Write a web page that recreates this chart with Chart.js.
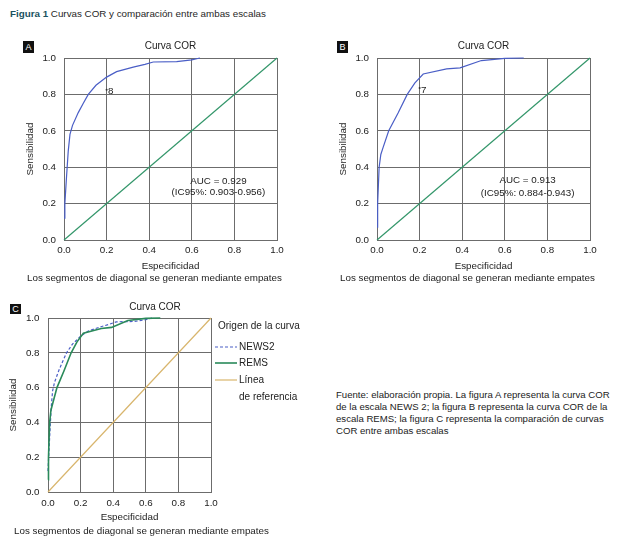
<!DOCTYPE html>
<html><head><meta charset="utf-8">
<script src="https://cdn.jsdelivr.net/npm/chart.js@4.4.1/dist/chart.umd.min.js"></script>
<style>
html,body{margin:0;padding:0;background:#fff;}
body{width:625px;height:541px;position:relative;overflow:hidden;font-family:"Liberation Sans",Arial,sans-serif;font-size:9.8px;color:#222;}
.abs{position:absolute;white-space:nowrap;line-height:12px;}
canvas{position:absolute;}
.tag{position:absolute;background:#111;color:#fff;font-size:9px;text-align:center;}
</style></head><body>
<div class="abs" style="left:10px;top:8px;"><b style="color:#1a5260">Figura 1</b> <span style="color:#1f1f1f">Curvas COR y comparación entre ambas escalas</span></div>
<canvas id="cA" width="280" height="250" style="left:20px;top:30px;width:280px;height:250px"></canvas>
<canvas id="cB" width="280" height="250" style="left:333px;top:30px;width:280px;height:250px"></canvas>
<canvas id="cC" width="310" height="245" style="left:0px;top:295px;width:310px;height:245px"></canvas>
<div class="tag" style="left:23px;top:41px;width:11px;height:12px;line-height:12px;">A</div>
<div class="tag" style="left:337px;top:41px;width:11px;height:12px;line-height:12px;">B</div>
<div class="tag" style="left:10px;top:304px;width:11px;height:10px;line-height:10px;">C</div>
<div class="abs" style="left:27px;top:272px;">Los segmentos de diagonal se generan mediante empates</div>
<div class="abs" style="left:340px;top:272px;">Los segmentos de diagonal se generan mediante empates</div>
<div class="abs" style="left:14px;top:525px;">Los segmentos de diagonal se generan mediante empates</div>
<div class="abs" style="left:336px;top:389px;font-size:9.6px;">Fuente: elaboración propia. La figura A representa la curva COR<br>de la escala NEWS 2; la figura B representa la curva COR de la<br>escala REMS; la figura C representa la comparación de curvas<br>COR entre ambas escalas</div>
<script>
// ---- data ----
const axisTicks = [0, 0.2, 0.4, 0.6, 0.8, 1.0];
const news2Spec = [0, 0.004, 0.012, 0.02, 0.028, 0.04, 0.067, 0.09, 0.114, 0.15, 0.2, 0.247, 0.325, 0.38, 0.419, 0.529, 0.6, 0.638];
const news2Sens = [0.12, 0.2, 0.35, 0.49, 0.58, 0.63, 0.7, 0.75, 0.8, 0.85, 0.895, 0.925, 0.95, 0.965, 0.978, 0.98, 0.99, 1.0];
const remsSpec = [0, 0.003, 0.01, 0.018, 0.028, 0.055, 0.099, 0.142, 0.178, 0.217, 0.327, 0.39, 0.49, 0.6, 0.689];
const remsSens = [0.07, 0.2, 0.4, 0.47, 0.506, 0.6, 0.698, 0.8, 0.863, 0.912, 0.94, 0.946, 0.986, 0.998, 1.0];
const refSpec = [0, 1];
const refSens = [0, 1];
const news2CutSpec = [0.2];
const news2CutSens = [0.826];
const news2CutLabel = ['8'];
const remsCutSpec = [0.2];
const remsCutSens = [0.835];
const remsCutLabel = ['7'];
const news2Auc = ['AUC = 0.929', '(IC95%: 0.903-0.956)'];
const remsAuc = ['AUC = 0.913', '(IC95%: 0.884-0.943)'];

const TXT = '#222', GRID = '#6c6c6c';
const BLUE = '#4a5ec6', GREEN = '#33966a', GREEN2 = '#2a8a5a', TAN = '#d8b56c';
const FONT = '"Liberation Sans", Arial, sans-serif';
const FS = 9.8;
Chart.defaults.font.family = FONT;
Chart.defaults.font.size = FS;
Chart.defaults.color = TXT;

const pts = (xs, ys) => xs.map((v, i) => ({x: v, y: ys[i]}));

const annotPlugin = {
  id: 'annot',
  afterDraw(chart, args, o) {
    const {ctx, chartArea: ca, scales: {x, y}} = chart;
    ctx.save();
    ctx.fillStyle = TXT;
    ctx.font = `${o.titleSize || 10}px ${FONT}`;
    ctx.textAlign = 'center'; ctx.textBaseline = 'middle';
    if (o.title) ctx.fillText(o.title, o.titleX != null ? o.titleX : (ca.left + ca.right) / 2, o.titleY);
    ctx.font = `${FS}px ${FONT}`;
    if (o.auc) {
      o.auc.forEach((t, i) => ctx.fillText(t, x.getPixelForValue(o.aucX), y.getPixelForValue(o.aucY[i])));
    }
    if (o.cuts) {
      ctx.textAlign = 'left';
      o.cuts.labels.forEach((t, i) => ctx.fillText(t, x.getPixelForValue(o.cuts.xs[i]) + 1.5, y.getPixelForValue(o.cuts.ys[i]) + 2));
    }
    if (o.legend) {
      const L = o.legend, lx = ca.right, ty = ca.top;
      ctx.textAlign = 'left';
      ctx.font = `10px ${FONT}`;
      ctx.fillText(L.title, lx + 7, ty + 8);
      L.items.forEach(it => {
        ctx.save();
        ctx.strokeStyle = it.color; ctx.lineWidth = it.width; ctx.setLineDash(it.dash || []);
        ctx.beginPath(); ctx.moveTo(lx + 4, ty + it.dy); ctx.lineTo(lx + 26, ty + it.dy); ctx.stroke();
        ctx.restore();
        it.text.forEach((t, k) => ctx.fillText(t, lx + 28, ty + it.dy + k * 17));
      });
    }
    ctx.restore();
  }
};

function makeChart(id, g, datasets, annot) {
  return new Chart(document.getElementById(id), {
    type: 'scatter',
    data: {datasets},
    options: {
      responsive: false, animation: false,
      layout: {padding: {left: 0, top: g.top, right: g.right, bottom: g.bottom}},
      plugins: {legend: {display: false}, tooltip: {enabled: false}, title: {display: false}, annot},
      elements: {line: {tension: 0}},
      scales: {
        x: {
          type: 'linear', min: 0, max: 1,
          afterBuildTicks: s => { s.ticks = axisTicks.map(v => ({value: v})); },
          afterFit: s => { s.height = g.xh; },
          ticks: {padding: g.xtp, callback: v => Number(v).toFixed(1), color: TXT, maxRotation: 0, autoSkip: false},
          grid: {color: GRID, lineWidth: 1, drawTicks: false},
          border: {color: GRID, width: 1},
          title: {display: true, text: 'Especificidad', color: TXT, padding: {top: 0, bottom: g.xtt}}
        },
        y: {
          type: 'linear', min: 0, max: 1,
          afterBuildTicks: s => { s.ticks = axisTicks.map(v => ({value: v})); },
          afterFit: s => { s.width = g.yw; },
          ticks: {padding: g.ytp, callback: v => Number(v).toFixed(1), color: TXT, autoSkip: false},
          grid: {color: GRID, lineWidth: 1, drawTicks: false},
          border: {color: GRID, width: 1},
          title: {display: true, text: 'Sensibilidad', color: TXT, padding: {top: g.ytt, bottom: 0}}
        }
      }
    },
    plugins: [annotPlugin]
  });
}

const line = (label, xs, ys, color, width, dash) => ({
  label, data: pts(xs, ys), showLine: true, borderColor: color, backgroundColor: color,
  borderWidth: width, borderDash: dash || [], pointRadius: 0, clip: 4, fill: false
});
const dots = (label, xs, ys) => ({label, data: pts(xs, ys), showLine: false, pointRadius: 1, borderWidth: 0, backgroundColor: '#333', clip: 4});

const gAB = {top: 28, right: 23, bottom: 4, xh: 36, yw: 44, xtp: 4.2, xtt: 4.2, ytp: 8, ytt: 4.0};

makeChart('cA', gAB, [
  line('NEWS2', news2Spec, news2Sens, BLUE, 1.2),
  line('Línea de referencia', refSpec, refSens, GREEN, 1.2),
  dots('Punto de corte', news2CutSpec, news2CutSens)
], {title: 'Curva COR', titleY: 16, auc: news2Auc, aucX: 0.725, aucY: [0.325, 0.262],
    cuts: {xs: news2CutSpec, ys: news2CutSens, labels: news2CutLabel}});

makeChart('cB', gAB, [
  line('REMS', remsSpec, remsSens, BLUE, 1.2),
  line('Línea de referencia', refSpec, refSens, GREEN, 1.2),
  dots('Punto de corte', remsCutSpec, remsCutSens)
], {title: 'Curva COR', titleY: 16, auc: remsAuc, aucX: 0.707, aucY: [0.327, 0.259],
    cuts: {xs: remsCutSpec, ys: remsCutSens, labels: remsCutLabel}});

makeChart('cC', {top: 23, right: 99, bottom: 16, xh: 32, yw: 48, xtp: 5.4, xtt: 0.9, ytp: 8.5, ytt: 7.9}, [
  line('Línea de referencia', refSpec, refSens, TAN, 1.2),
  line('REMS', remsSpec, remsSens, GREEN2, 1.6),
  line('NEWS2', news2Spec, news2Sens, BLUE, 1.2, [3, 2])
], {title: 'Curva COR', titleX: 155, titleY: 12.7,
    legend: {title: 'Origen de la curva', items: [
      {text: ['NEWS2'], color: BLUE, width: 1.2, dash: [3, 2], dy: 29},
      {text: ['REMS'], color: GREEN2, width: 1.6, dy: 45},
      {text: ['Línea', 'de referencia'], color: TAN, width: 1.2, dy: 62}
    ]}});
</script>
</body></html>
